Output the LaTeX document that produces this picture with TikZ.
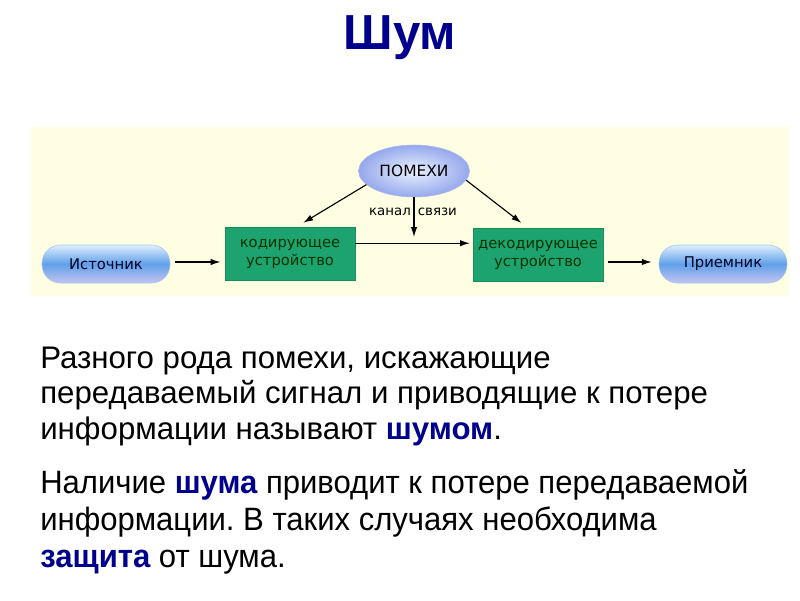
\documentclass[tikz,border=0pt]{standalone}
\usepackage{fontspec}
\setmainfont{Liberation Sans}
\newfontfamily\diagfont{DejaVu Sans}
\newfontfamily\narrowfont{Liberation Sans}[FakeStretch=0.96]
\usetikzlibrary{arrows.meta, shapes.geometric, positioning}
\definecolor{navyword}{RGB}{0,0,140}
\definecolor{panelyellow}{RGB}{255,254,226}
\definecolor{devgreen}{RGB}{28,163,112}
\definecolor{pilltop}{RGB}{222,238,255}
\definecolor{pillmid}{RGB}{96,160,232}
\definecolor{pillbot}{RGB}{196,196,242}
\definecolor{noisein}{RGB}{232,242,255}
\definecolor{noiseout}{RGB}{150,168,236}
\newcommand{\hl}[1]{\textbf{\color{navyword}#1}}
\frenchspacing

\begin{document}
\begin{tikzpicture}[x=0.025cm, y=-0.025cm,
    pill/.style={rectangle, rounded corners=0.46cm, minimum width=3.2cm, minimum height=0.95cm,
        top color=pilltop, bottom color=pillbot, middle color=pillmid, draw=pillmid!60!white,
        font=\diagfont\fontsize{10.5}{12}\selectfont, text=black!85!blue},
    devbox/.style={rectangle, fill=devgreen, draw=devgreen!85!black, minimum width=3.25cm,
        minimum height=1.33cm, align=center, font=\diagfont\fontsize{10.5}{13}\selectfont, text=black!80!green},
    noise/.style={ellipse, minimum width=2.5cm, minimum height=1.3cm, inner color=noisein,
        outer color=noiseout, draw=noiseout!80!white, font=\diagfont\fontsize{11}{12}\selectfont},
    arr/.style={-{Latex[length=7pt,width=4.5pt]}, line width=0.8pt},
    line/.style={anchor=base west, inner sep=0pt}]
    \useasboundingbox (0,0) rectangle (800,600);

    % title
    \node[font=\bfseries\fontsize{35}{40}\selectfont, text=navyword] (title) at (400,38) {Шум};

    % diagram panel
    \fill[panelyellow] (31,127) rectangle (789,296);

    \node[noise] (pomehi) at (414,171) {ПОМЕХИ};
    \node[devbox] (coder) at (290,254) {кодирующее\\устройство};
    \node[devbox] (decoder) at (538,255) {декодирующее\\устройство};
    \node[pill] (source) at (106,264) {Источник};
    \node[pill] (receiver) at (723,264) {Приемник};

    \node[font=\diagfont\fontsize{9.5}{11}\selectfont] (chanlbl) at (413,212) {канал\hspace{5pt}связи};
    \coordinate (tap) at (414,237);

    \draw[arr, shorten <=3pt, shorten >=3pt] (source.east |- 0,262) -- (coder.west |- 0,262);
    \draw[arr, shorten >=2pt] ([yshift=0.27cm]coder.east) -- ([yshift=0.27cm]coder.east -| decoder.west);
    \draw[arr, shorten <=3pt, shorten >=5pt] (decoder.east |- 0,262) -- (receiver.west |- 0,262);
    \draw[arr, shorten >=6pt] (pomehi.196) -- ([xshift=0.15cm]coder.north);
    \draw[arr, shorten >=6pt] (pomehi.350) -- ([xshift=-0.25cm]decoder.north);
    \draw[arr] (pomehi.south) -- (tap);

    % text below
    \begin{scope}[font=\fontsize{22.2}{26}\selectfont]
        \node[line] (p1a) at (40,368) {Разного рода помехи, искажающие};
        \node[line] (p1b) at (40,403) {передаваемый сигнал и приводящие к потере};
        \node[line] (p1c) at (40,439) {информации называют \hl{шумом}.};
    \end{scope}
    \begin{scope}[font=\narrowfont\fontsize{23}{26}\selectfont]
        \node[line] (p2a) at (40,493) {Наличие \hl{шума} приводит к потере передаваемой};
        \node[line] (p2b) at (40,530) {информации. В таких случаях необходима};
        \node[line] (p2c) at (40,567) {\hl{защита} от шума.};
    \end{scope}
\end{tikzpicture}
\end{document}
